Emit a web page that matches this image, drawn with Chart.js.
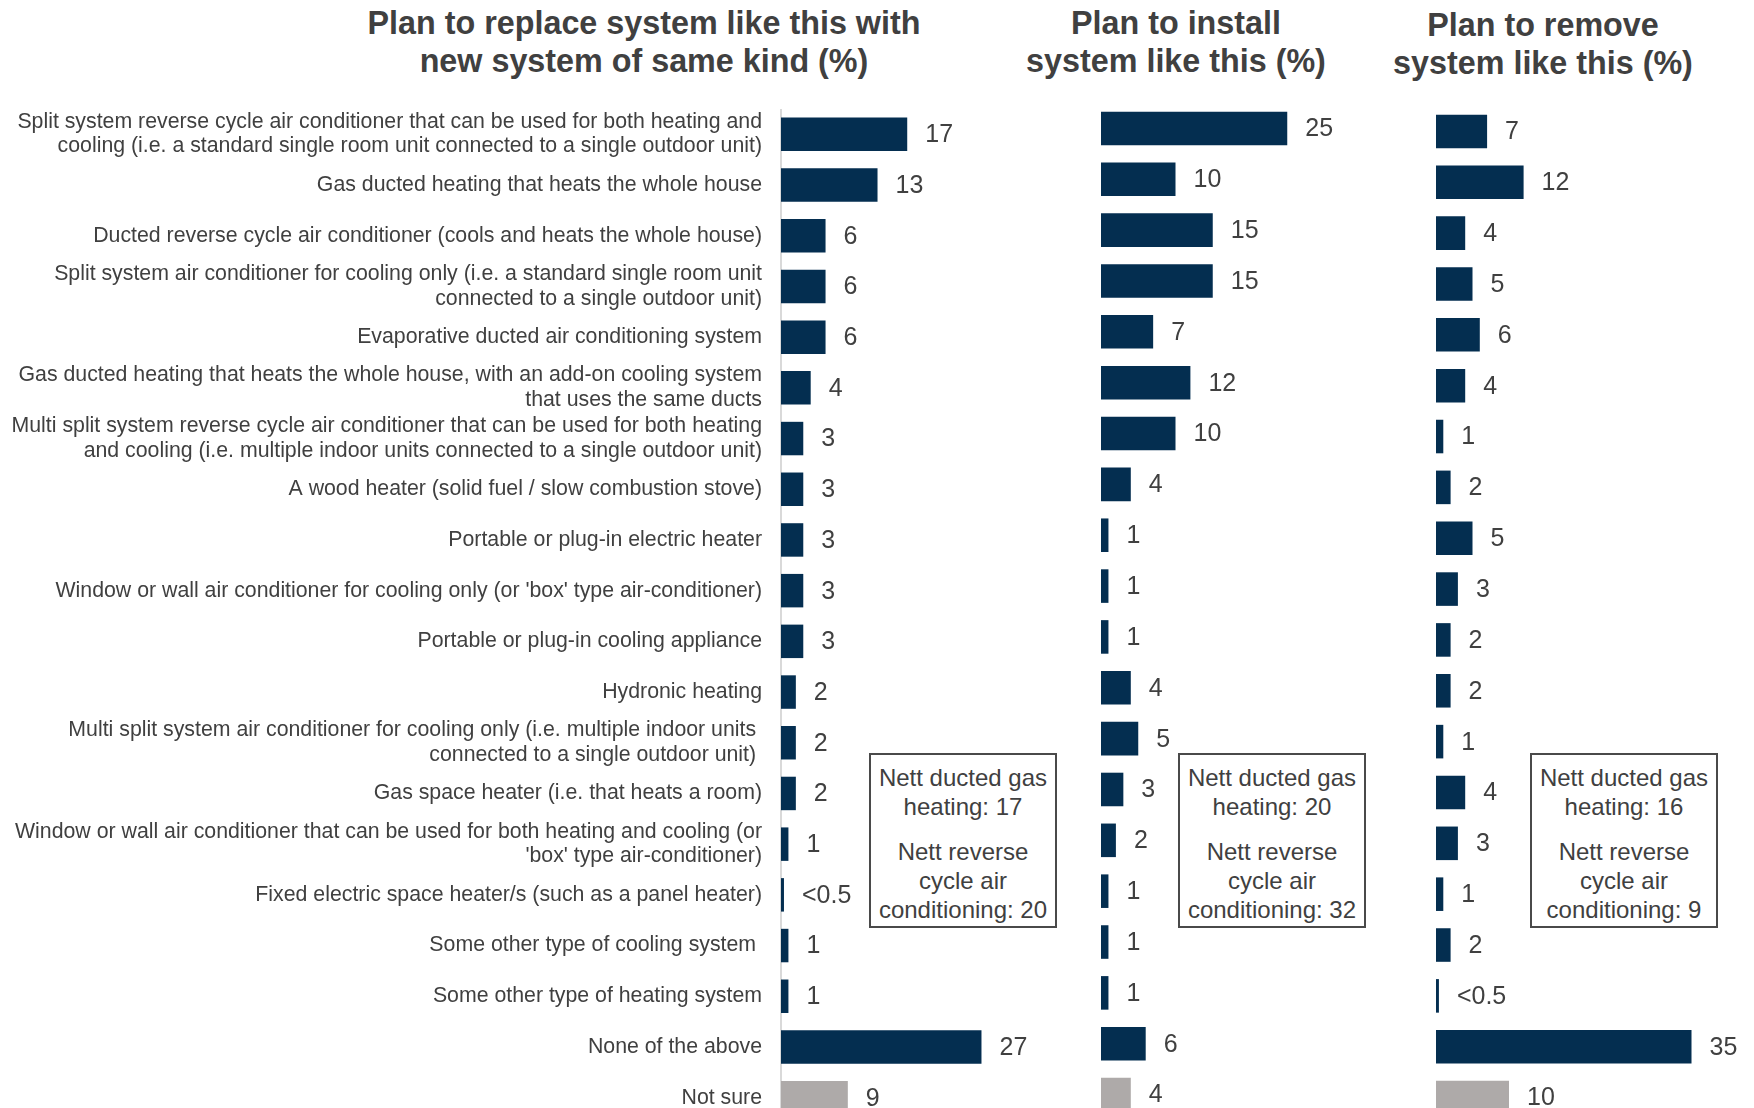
<!DOCTYPE html>
<html>
<head>
<meta charset="utf-8">
<title>Heating and cooling system plans</title>
<script src="https://cdn.jsdelivr.net/npm/chart.js@4.4.1/dist/chart.umd.min.js"></script>
<style>
  html, body { margin: 0; padding: 0; background: #fff; }
  body { width: 1754px; height: 1108px; overflow: hidden; position: relative;
         font-family: "Liberation Sans", Arial, sans-serif; color: #404040; }
  canvas { position: absolute; }
  .title { position: absolute; width: 700px; text-align: center; font-weight: bold;
           font-size: 32.3px; line-height: 38px; color: #404040; }
  .note { position: absolute; box-sizing: border-box; width: 188px; height: 175px;
          border: 2px solid #4a4a4a; background: #fff; text-align: center;
          font-size: 24px; line-height: 29px; color: #404040; padding-top: 8px; z-index: 2; }
  .note p { margin: 0 0 16px 0; }
</style>
</head>
<body>

<div class="title" style="left:294px; top:4px;">Plan to replace system like this with<br>new system of same kind (%)</div>
<div class="title" style="left:826px; top:4px;">Plan to install<br>system like this (%)</div>
<div class="title" style="left:1193px; top:6px;">Plan to remove<br>system like this (%)</div>

<canvas id="replaceChart" width="1140" height="1014" style="left:0px; top:109px;"></canvas>
<canvas id="installChart" width="358" height="1017" style="left:1101px; top:103px;"></canvas>
<canvas id="removeChart" width="350" height="1017" style="left:1436px; top:106px;"></canvas>

<div class="note" style="left:869px; top:753px;"><p>Nett ducted gas<br>heating: 17</p><p>Nett reverse<br>cycle air<br>conditioning: 20</p></div>
<div class="note" style="left:1178px; top:753px;"><p>Nett ducted gas<br>heating: 20</p><p>Nett reverse<br>cycle air<br>conditioning: 32</p></div>
<div class="note" style="left:1530px; top:753px;"><p>Nett ducted gas<br>heating: 16</p><p>Nett reverse<br>cycle air<br>conditioning: 9</p></div>

<script>
// Categories (multi-line labels are arrays)
const categories = [
    ['Split system reverse cycle air conditioner that can be used for both heating and', 'cooling (i.e. a standard single room unit connected to a single outdoor unit)'],
    'Gas ducted heating that heats the whole house',
    'Ducted reverse cycle air conditioner (cools and heats the whole house)',
    ['Split system air conditioner for cooling only (i.e. a standard single room unit', 'connected to a single outdoor unit)'],
    'Evaporative ducted air conditioning system',
    ['Gas ducted heating that heats the whole house, with an add-on cooling system', 'that uses the same ducts'],
    ['Multi split system reverse cycle air conditioner that can be used for both heating', 'and cooling (i.e. multiple indoor units connected to a single outdoor unit)'],
    'A wood heater (solid fuel / slow combustion stove)',
    'Portable or plug-in electric heater',
    "Window or wall air conditioner for cooling only (or 'box' type air-conditioner)",
    'Portable or plug-in cooling appliance',
    'Hydronic heating',
    ['Multi split system air conditioner for cooling only (i.e. multiple indoor units ', 'connected to a single outdoor unit) '],
    'Gas space heater (i.e. that heats a room)',
    ['Window or wall air conditioner that can be used for both heating and cooling (or', "'box' type air-conditioner)"],
    'Fixed electric space heater/s (such as a panel heater)',
    'Some other type of cooling system ',
    'Some other type of heating system',
    'None of the above',
    'Not sure'
];

// Percentages per panel (values under 0.5 are shown as "<0.5")
const replaceValues = [17, 13, 6, 6, 6, 4, 3, 3, 3, 3, 3, 2, 2, 2, 1, 0.4, 1, 1, 27, 9];
const installValues = [25, 10, 15, 15, 7, 12, 10, 4, 1, 1, 1, 4, 5, 3, 2, 1, 1, 1, 6, 4];
const removeValues  = [7, 12, 4, 5, 6, 4, 1, 2, 5, 3, 2, 2, 1, 4, 3, 1, 2, 0.4, 35, 10];

const NAVY = '#042e50';
const GREY = '#aeaaa9';
const TEXT = '#404040';
const FONT = '"Liberation Sans", Arial, sans-serif';

// Writes the value just past the end of each bar
const valueLabels = {
    id: 'valueLabels',
    afterDatasetsDraw(chart) {
        const ctx = chart.ctx;
        const meta = chart.getDatasetMeta(0);
        const data = chart.data.datasets[0].data;
        ctx.save();
        ctx.font = '25px ' + FONT;
        ctx.fillStyle = TEXT;
        ctx.textAlign = 'left';
        ctx.textBaseline = 'middle';
        meta.data.forEach((bar, i) => {
            const v = data[i];
            const text = v < 0.5 ? '<0.5' : String(v);
            ctx.fillText(text, bar.x + 18, bar.y + 1);
        });
        ctx.restore();
    }
};

function makeChart(id, values, showLabels, padRight) {
    const ctx = document.getElementById(id).getContext('2d');
    const yAxis = {
        display: showLabels,
        grid: { display: false, drawTicks: false },
        border: { display: true, color: '#d9d9d9', width: 2 },
        ticks: {
            color: TEXT,
            padding: 19,
            autoSkip: false,
            font: { family: FONT, size: 21.3, lineHeight: 1.15 }
        }
    };
    if (showLabels) {
        // fixed label column; keep the plot area full height
        yAxis.afterFit = scale => {
            scale.width = 781;
            scale.paddingTop = 0;
            scale.paddingBottom = 0;
        };
    }
    return new Chart(ctx, {
        type: 'bar',
        data: {
            labels: categories,
            datasets: [{
                data: values,
                backgroundColor: c => c.dataIndex === categories.length - 1 ? GREY : NAVY,
                borderWidth: 0,
                barPercentage: 0.66,
                categoryPercentage: 1
            }]
        },
        options: {
            indexAxis: 'y',
            responsive: false,
            animation: false,
            events: [],
            layout: { padding: { left: 0, right: padRight, top: 0, bottom: 0 } },
            plugins: {
                legend: { display: false },
                tooltip: { enabled: false },
                title: { display: false }
            },
            scales: {
                x: { display: false, min: 0, max: 40 },
                y: yAxis
            }
        },
        plugins: [valueLabels]
    });
}

makeChart('replaceChart', replaceValues, true, 62);
makeChart('installChart', installValues, false, 60);
makeChart('removeChart', removeValues, false, 58);
</script>
</body>
</html>
